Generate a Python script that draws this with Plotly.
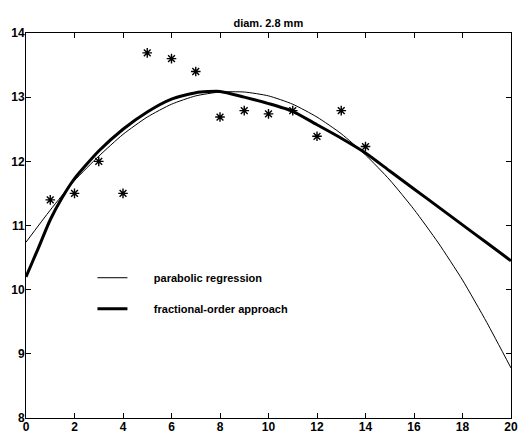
import plotly.graph_objects as go

# Measured points (stars)
x_obs = [1, 2, 3, 4, 5, 6, 7, 8, 9, 10, 11, 12, 13, 14]
y_obs = [11.40, 11.50, 12.00, 11.50, 13.69, 13.60, 13.40, 12.69, 12.79, 12.74, 12.79, 12.39, 12.79, 12.23]

# Parabolic regression curve (thin line)
x_para = [0, 1, 2, 3, 4, 5, 6, 7, 8, 9, 10, 11, 12, 13, 14, 15, 16, 17, 18, 19, 20]
y_para = [10.74, 11.24, 11.70, 12.08, 12.42, 12.69, 12.89, 13.02, 13.08, 13.08, 13.02,
          12.89, 12.69, 12.43, 12.10, 11.71, 11.25, 10.73, 10.15, 9.49, 8.78]

# Fractional-order approach curve (thick line)
x_frac = [0, 0.25, 0.5, 1, 1.5, 2, 3, 4, 5, 6, 7, 8, 9, 10, 11, 12, 13, 14, 15, 16, 17, 18, 19, 20]
y_frac = [10.20, 10.42, 10.64, 11.09, 11.44, 11.73, 12.16, 12.50, 12.77, 12.97, 13.07, 13.09,
          13.00, 12.90, 12.78, 12.57, 12.36, 12.13, 11.85, 11.57, 11.29, 11.01, 10.73, 10.45]

title_text = "diam. 2.8 mm"
x_ticks = [0, 2, 4, 6, 8, 10, 12, 14, 16, 18, 20]
y_ticks = [8, 9, 10, 11, 12, 13, 14]
x_range = [0, 20]
y_range = [8, 14]

pad = "\u00a0" * 7
FONT = "Liberation Sans"

fig = go.Figure()
fig.add_trace(go.Scatter(
    x=x_obs, y=y_obs, mode="markers", showlegend=False,
    marker=dict(symbol="asterisk-open", size=8, color="black",
                line=dict(width=1.4, color="black")),
))
fig.add_trace(go.Scatter(
    x=x_para, y=y_para, mode="lines", name=pad + "parabolic regression",
    legendgroup="a", line=dict(color="black", width=1, shape="spline", smoothing=0.6),
))
fig.add_trace(go.Scatter(
    x=x_frac, y=y_frac, mode="lines", name=pad + "fractional-order approach",
    legendgroup="b", line=dict(color="black", width=3, shape="spline", smoothing=0.6),
))

axis_common = dict(
    showline=True, linecolor="black", linewidth=1, mirror="ticks",
    ticks="inside", ticklen=5, tickwidth=1, tickcolor="black",
    showgrid=False, zeroline=False, automargin=False,
    tickfont=dict(family=FONT, size=12, color="black", weight="bold"),
)
mirror_common = dict(
    showline=True, linecolor="black", linewidth=1,
    ticks="inside", ticklen=5, tickwidth=1, tickcolor="black",
    showgrid=False, zeroline=False, automargin=False, showticklabels=False,
)

fig.update_layout(
    width=519, height=434,
    margin=dict(l=26, r=8, t=33, b=16, autoexpand=False),
    paper_bgcolor="white", plot_bgcolor="white",
    title=dict(text=title_text, x=0.517, xanchor="center", y=0.946, yanchor="middle",
               font=dict(family=FONT, size=11, color="black", weight="bold")),
    xaxis=dict(range=x_range, tickvals=x_ticks, ticklabelstandoff=-2, **axis_common),
    yaxis=dict(range=y_range, tickvals=y_ticks, ticklabelstandoff=-2, **axis_common),
    xaxis2=dict(range=x_range, tickvals=x_ticks, overlaying="x", side="top",
                anchor="y", matches="x", **mirror_common),
    yaxis2=dict(range=y_range, tickvals=y_ticks, overlaying="y", side="right",
                anchor="x", matches="y", **mirror_common),
    legend=dict(x=0.137, y=0.402, xanchor="left", yanchor="top",
                bgcolor="rgba(0,0,0,0)", borderwidth=0,
                traceorder="grouped", tracegroupgap=12, itemwidth=30,
                font=dict(family=FONT, size=11, color="black", weight="bold")),
)

fig.write_html("out.html",
               config={"displayModeBar": False},
               post_script="document.body.style.margin='0';document.body.style.overflow='hidden';")
